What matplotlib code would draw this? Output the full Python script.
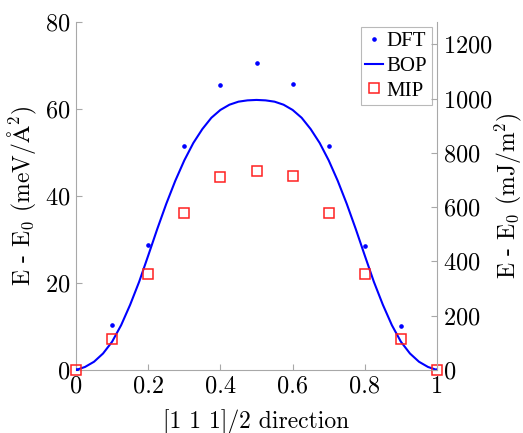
import numpy as np
import matplotlib
matplotlib.use('Agg')
import matplotlib.pyplot as plt

# ── Dane ─────────────────────────────────────────────────────
x_pts = [0.0, 0.1, 0.2, 0.3, 0.4, 0.5, 0.6, 0.7, 0.8, 0.9, 1.0]
dft = [0.0, 10.3, 28.7, 51.4, 65.5, 70.5, 65.7, 51.5, 28.6, 10.2, 0.0]
mip = [0.0, 7.1, 22.0, 36.0, 44.4, 45.7, 44.6, 36.2, 22.0, 7.1, 0.0]

bop_x = [0.000, 0.025, 0.050, 0.075, 0.100, 0.125, 0.150, 0.175, 0.200, 0.225,
         0.250, 0.275, 0.300, 0.325, 0.350, 0.375, 0.400, 0.425, 0.450, 0.475,
         0.500, 0.525, 0.550, 0.575, 0.600, 0.625, 0.650, 0.675, 0.700, 0.725,
         0.750, 0.775, 0.800, 0.825, 0.850, 0.875, 0.900, 0.925, 0.950, 0.975,
         1.000]
bop = [0.0, 0.7, 1.9, 3.8, 6.5, 10.3, 15.0, 20.3, 26.3, 32.4,
       38.2, 43.5, 48.2, 52.2, 55.4, 58.0, 59.8, 61.0, 61.7, 62.0,
       62.1, 62.0, 61.7, 61.0, 59.8, 58.0, 55.4, 52.2, 48.2, 43.5,
       38.2, 32.4, 26.3, 20.3, 15.0, 10.3, 6.5, 3.8, 1.9, 0.7,
       0.0]

x_ticks = [0, 0.2, 0.4, 0.6, 0.8, 1.0]
x_labels = ['0', '0.2', '0.4', '0.6', '0.8', '1']
y_ticks = [0, 20, 40, 60, 80]
y2_ticks = [0, 200, 400, 600, 800, 1000, 1200]
CONV = 16.0218   # meV/A^2 -> mJ/m^2

# ── Styl ─────────────────────────────────────────────────────
plt.rcParams['font.family'] = ['cmr10', 'DejaVu Serif']
plt.rcParams['mathtext.fontset'] = 'cm'
plt.rcParams['axes.formatter.use_mathtext'] = True
GREY = '#a8a8a8'
FS = 17
TFS = 17.5

fig = plt.figure(figsize=(5.23, 4.33), dpi=100)
ax = fig.add_axes([0.1453, 0.1455, 0.6903, 0.8035])
ax2 = ax.twinx()

ax.plot(bop_x, bop, color='#0000ff', lw=1.5, label='BOP', zorder=2)
ax.plot(x_pts, dft, 'o', color='#0000ff', ms=2.3, label='DFT', zorder=3)
ax.plot(x_pts, mip, 's', mfc='none', mec='#ff2020', mew=1.1, ms=6.6,
        label='MIP', zorder=4, clip_on=False)

ax.set_xlim(0, 1)
ax.set_ylim(0, 80)
ax2.set_ylim(0, 80 * CONV)
ax.set_xticks(x_ticks)
ax.set_xticklabels(x_labels)
ax.set_yticks(y_ticks)
ax2.set_yticks(y2_ticks)

for a in (ax, ax2):
    a.tick_params(direction='in', length=4, width=0.8, color=GREY,
                  labelsize=TFS, pad=4)
    for s in a.spines.values():
        s.set_color(GREY)
        s.set_linewidth(0.8)
    a.spines['top'].set_visible(False)
ax.spines['right'].set_visible(False)
ax2.spines['left'].set_visible(False)
ax2.spines['bottom'].set_visible(False)

ax.set_xlabel('[1 1 1]/2 direction', fontsize=FS, labelpad=8)
ax.set_ylabel(r'E - E$_0$ (meV/$\mathrm{\AA}^2$)', fontsize=FS, labelpad=4)
ax2.set_ylabel(r'E - E$_0$ (mJ/m$^2$)', fontsize=FS, labelpad=0)

h, l = ax.get_legend_handles_labels()
order = [1, 0, 2]
leg = ax.legend([h[i] for i in order], [l[i] for i in order],
                loc='upper right', bbox_to_anchor=(0.985, 0.985),
                fontsize=15, frameon=True, fancybox=False,
                handlelength=0.85, handletextpad=0.2, borderpad=0.2,
                labelspacing=0.25, borderaxespad=0.0)
for t in leg.get_texts():
    t.set_fontfamily(['Liberation Serif', 'DejaVu Serif'])
leg.get_frame().set_edgecolor(GREY)
leg.get_frame().set_linewidth(0.8)

fig.savefig('out.png', dpi=100)
